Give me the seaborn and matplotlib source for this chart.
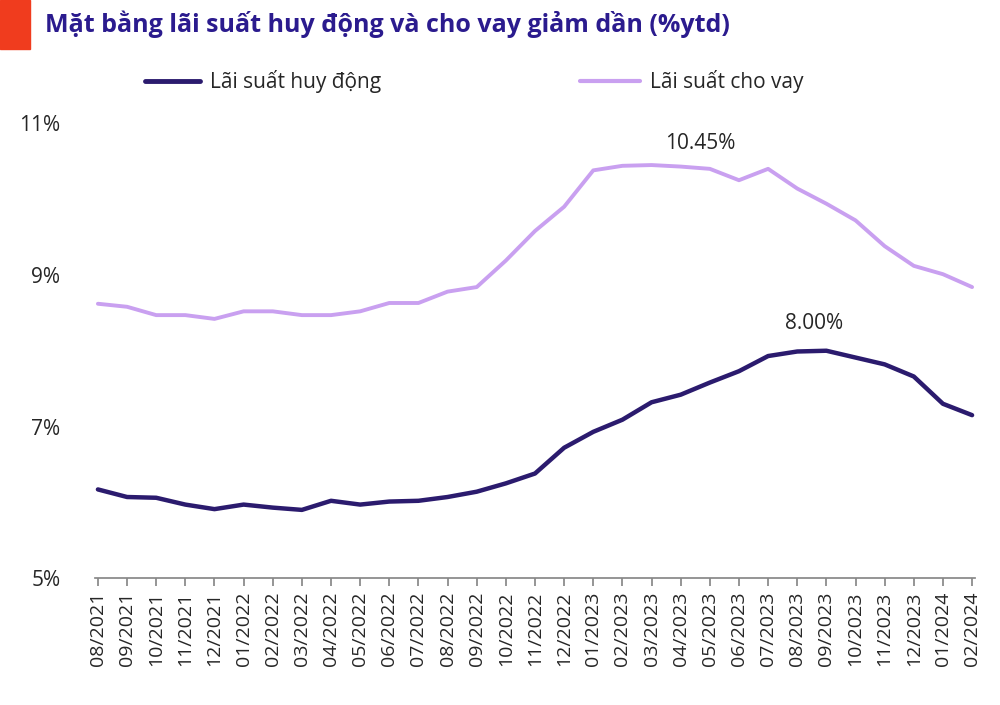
import matplotlib.pyplot as plt
import matplotlib.patches as mpatches
import seaborn as sns
import pandas as pd

sns.set_theme(style="white", font="Open Sans")

months = ["08/2021", "09/2021", "10/2021", "11/2021", "12/2021",
          "01/2022", "02/2022", "03/2022", "04/2022", "05/2022", "06/2022",
          "07/2022", "08/2022", "09/2022", "10/2022", "11/2022", "12/2022",
          "01/2023", "02/2023", "03/2023", "04/2023", "05/2023", "06/2023",
          "07/2023", "08/2023", "09/2023", "10/2023", "11/2023", "12/2023",
          "01/2024", "02/2024"]
deposit = [6.17, 6.07, 6.06, 5.97, 5.91, 5.97, 5.93, 5.90, 6.02, 5.97, 6.01,
           6.02, 6.07, 6.14, 6.25, 6.38, 6.72, 6.93, 7.09, 7.32, 7.42, 7.58,
           7.73, 7.93, 7.99, 8.00, 7.91, 7.82, 7.66, 7.30, 7.15]
lending = [8.62, 8.58, 8.47, 8.47, 8.42, 8.52, 8.52, 8.47, 8.47, 8.52, 8.63,
           8.63, 8.78, 8.84, 9.19, 9.58, 9.90, 10.38, 10.44, 10.45, 10.43, 10.40,
           10.25, 10.40, 10.14, 9.94, 9.72, 9.38, 9.12, 9.01, 8.84]
yticks = [5, 7, 9, 11]

navy = "#2b1b6e"
lilac = "#c9a0f0"

df = pd.DataFrame({"x": range(len(months)), "deposit": deposit, "lending": lending})

fig = plt.figure(figsize=(10, 7.05), dpi=100)
ax = fig.add_axes([0.095, 0.18, 0.88, 0.645])

sns.lineplot(data=df, x="x", y="deposit", ax=ax, color=navy, linewidth=3.2,
             solid_joinstyle="round")
sns.lineplot(data=df, x="x", y="lending", ax=ax, color=lilac, linewidth=2.8,
             solid_joinstyle="round")

ax.set_xlim(-0.1, len(months) - 0.9)
ax.set_ylim(5, 11)
ax.set_yticks(yticks)
ax.set_yticklabels([f"{v}%" for v in yticks], fontsize=15)
ax.set_xticks(range(len(months)))
ax.set_xticklabels(months, rotation=90, fontsize=14)
ax.set_xlabel("")
ax.set_ylabel("")
for s in ["top", "right", "left"]:
    ax.spines[s].set_visible(False)
ax.spines["bottom"].set_color("#888888")
ax.tick_params(axis="x", length=6, color="#888888", direction="out", bottom=True)
ax.tick_params(axis="y", length=0, pad=25)

# peak labels
i_l = lending.index(max(lending))
ax.annotate(f"{max(lending):.2f}%", (i_l, max(lending)), xytext=(10, 8),
            textcoords="offset points", ha="left", va="bottom", fontsize=15)
i_d = deposit.index(max(deposit))
ax.annotate(f"{max(deposit):.2f}%", (i_d, max(deposit)), xytext=(-30, 12),
            textcoords="offset points", ha="left", va="bottom", fontsize=15)

# title and legend
fig.patches.append(mpatches.Rectangle((0, 0.93), 0.03, 0.07, transform=fig.transFigure,
                                      color="#f03c1e"))
fig.text(0.045, 0.965, "Mặt bằng lãi suất huy động và cho vay giảm dần (%ytd)",
         fontsize=18, fontweight="bold", color="#2b1b8e", va="center")
fig.lines.append(plt.Line2D([0.145, 0.2], [0.885, 0.885], transform=fig.transFigure,
                            color=navy, linewidth=3.5))
fig.text(0.21, 0.885, "Lãi suất huy động", fontsize=15, va="center")
fig.lines.append(plt.Line2D([0.58, 0.64], [0.885, 0.885], transform=fig.transFigure,
                            color=lilac, linewidth=3))
fig.text(0.65, 0.885, "Lãi suất cho vay", fontsize=15, va="center")

fig.savefig("out.png", dpi=100)
